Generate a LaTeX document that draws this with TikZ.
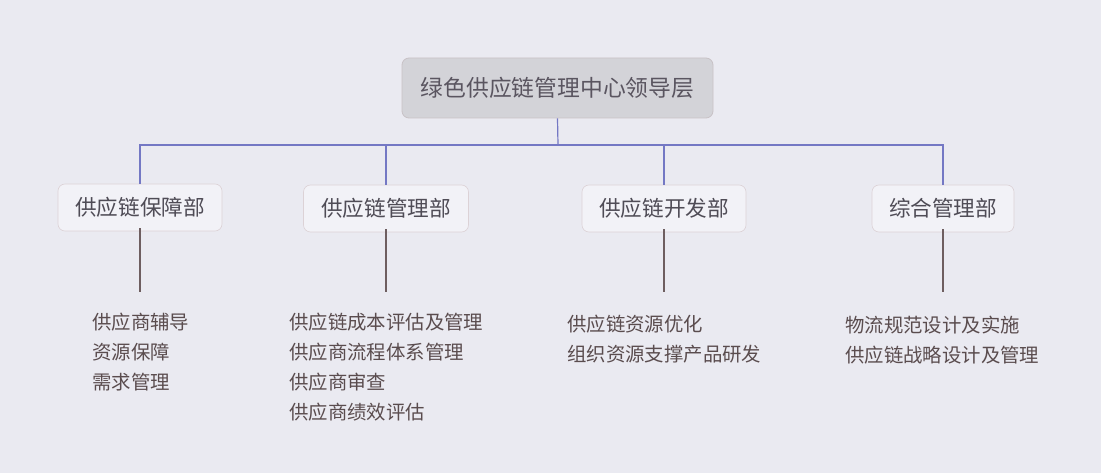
\documentclass[tikz,border=0pt]{standalone}
\usepackage{fontspec}
\setmainfont{Noto Sans CJK SC}
\begin{document}
\begin{tikzpicture}[x=1pt,y=-1pt,
  topbox/.style={draw=topborder,fill=topfill,rounded corners=7pt,line width=0.8pt,
    minimum width=311pt,minimum height=60pt,inner sep=0pt,text=toptext,
    font=\fontsize{22.8}{26}\selectfont},
  deptbox/.style={draw=deptborder,fill=deptfill,rounded corners=7pt,line width=0.6pt,
    minimum height=47pt,inner sep=0pt,text=depttext,
    font=\fontsize{21.6}{25}\selectfont},
  item/.style={anchor=west,inner sep=0pt,text=itemtext,font=\fontsize{19.4}{22}\selectfont},
  blueline/.style={draw=linkblue,line width=1.2pt},
  brownline/.style={draw=linkbrown,line width=1.2pt}]
\definecolor{bg}{HTML}{EAEAF1}
\definecolor{topfill}{HTML}{D3D3D8}
\definecolor{topborder}{HTML}{C8C2C6}
\definecolor{toptext}{HTML}{5A5560}
\definecolor{deptfill}{HTML}{F2F2F7}
\definecolor{deptborder}{HTML}{DCD2D6}
\definecolor{depttext}{HTML}{4F4C56}
\definecolor{itemtext}{HTML}{5A4C4E}
\definecolor{linkblue}{HTML}{7478C4}
\definecolor{linkbrown}{HTML}{6E5E60}
\fill[bg] (0,0) rectangle (1101,473);
\useasboundingbox (0,0) rectangle (1101,473);

\node[topbox] (top) at (557.5,88) {绿色供应链管理中心领导层};

\node[deptbox,minimum width=164pt] (d1) at (140,207.5) {供应链保障部};
\node[deptbox,minimum width=165pt] (d2) at (386,208.5) {供应链管理部};
\node[deptbox,minimum width=164pt] (d3) at (664,208.5) {供应链开发部};
\node[deptbox,minimum width=142pt] (d4) at (943,208.5) {综合管理部};

\coordinate (hub) at (558,145);
\draw[blueline] (top.south) -- (hub);
\draw[blueline] (hub) -| (d1.north);
\draw[blueline] (hub) -| (d2.north);
\draw[blueline] (hub) -| (d3.north);
\draw[blueline] (hub) -| (d4.north);

\coordinate (e1) at (140,292);
\coordinate (e2) at (386,292);
\coordinate (e3) at (664,292);
\coordinate (e4) at (943,292);
\draw[brownline] ([yshift=3pt]d1.south) -- (e1);
\draw[brownline] ([yshift=3pt]d2.south) -- (e2);
\draw[brownline] ([yshift=3pt]d3.south) -- (e3);
\draw[brownline] ([yshift=3pt]d4.south) -- (e4);

\node[item] (s11) at (92,322) {供应商辅导};
\node[item] (s12) at (92,352) {资源保障};
\node[item] (s13) at (92,382) {需求管理};

\node[item] (s21) at (289,322) {供应链成本评估及管理};
\node[item] (s22) at (289,352) {供应商流程体系管理};
\node[item] (s23) at (289,382) {供应商审查};
\node[item] (s24) at (289,412) {供应商绩效评估};

\node[item] (s31) at (567,324) {供应链资源优化};
\node[item] (s32) at (567,354) {组织资源支撑产品研发};

\node[item] (s41) at (845,325) {物流规范设计及实施};
\node[item] (s42) at (845,355) {供应链战略设计及管理};
\end{tikzpicture}
\end{document}
